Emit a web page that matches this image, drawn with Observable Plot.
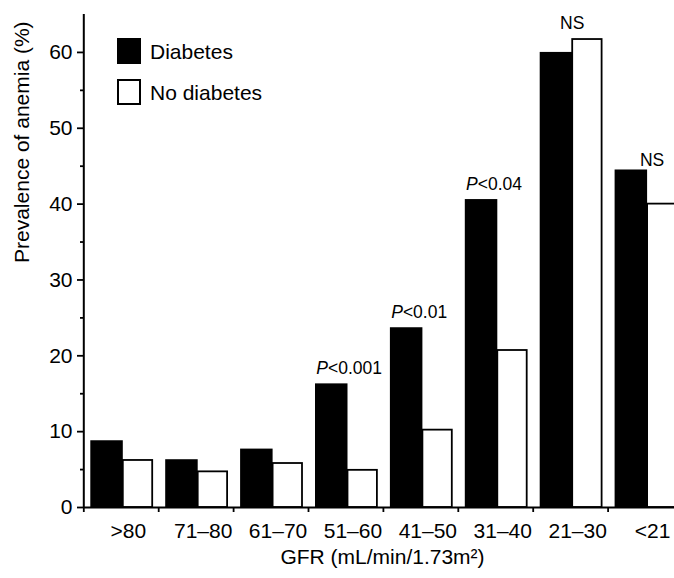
<!DOCTYPE html>
<html><head><meta charset="utf-8">
<script src="https://cdn.jsdelivr.net/npm/d3@7"></script>
<script src="https://cdn.jsdelivr.net/npm/@observablehq/plot@0.6"></script>
<style>
body{margin:0;background:#fff;overflow:hidden}
#chart{position:relative;width:674px;height:578px;font-family:"Liberation Sans",Arial,Helvetica,sans-serif;color:#000}
#chart svg{overflow:hidden}
</style></head><body><div id="chart"></div>
<script>
// ---- data ----
const groups = [">80", "71–80", "61–70", "51–60", "41–50", "31–40", "21–30", "<21"];
const series = ["Diabetes", "No diabetes"];
const diabetes   = [8.8, 6.3, 7.7, 16.3, 23.7, 40.6, 60.0, 44.5];
const noDiabetes = [6.2, 4.7, 5.8, 4.9, 10.2, 20.7, 61.7, 40.0];
const pGroups = ["51–60", "41–50", "31–40"];
const pValues = ["<0.001", "<0.01", "<0.04"];
const nsGroups = ["21–30", "<21"];
const yTicks = [0, 10, 20, 30, 40, 50, 60];
const yMinorTicks = [5, 15, 25, 35, 45, 55];
const xLabel = "GFR (mL/min/1.73m²)";
const yLabel = "Prevalence of anemia (%)";

// ---- layout ----
const W = 674, H = 578, x0 = 83.3, step = 74.9, yBase = 507, yTop = 14;

const table = groups.map((g, i) => ({group: g, d: diabetes[i], n: noDiabetes[i], top: Math.max(diabetes[i], noDiabetes[i])}));
const pTable = pGroups.map((g, i) => ({group: g, label: pValues[i], top: table.find(t => t.group === g).top}));
const nsTable = nsGroups.map(g => ({group: g, label: "NS", top: table.find(t => t.group === g).top}));

const plot = Plot.plot({
  width: W, height: H,
  marginLeft: 83, marginRight: 0, marginTop: yTop, marginBottom: H - yBase,
  style: {fontFamily: "Liberation Sans, Arial, Helvetica, sans-serif", fontSize: "21px", color: "#000", background: "#fff", overflow: "hidden"},
  x: {type: "band", domain: groups, range: [x0, x0 + step * groups.length], padding: 0, round: false, axis: null},
  y: {domain: [0, 65], range: [yBase, yTop], axis: null},
  marks: [
    Plot.barY(table, {x: "group", y: "d", fill: "#000", insetLeft: 7, insetRight: step - 39.5}),
    Plot.barY(table, {x: "group", y: "n", fill: "#fff", stroke: "#000", strokeWidth: 1.8, insetLeft: 39.5, insetRight: 6}),
    Plot.ruleY([0], {stroke: "#000", strokeWidth: 2}),
    Plot.ruleX([groups[0]], {x: d => d, dx: -step / 2, y1: 0, y2: 65, stroke: "#000", strokeWidth: 2}),
    Plot.axisX(groups, {tickSize: 5, tickFormat: () => "", dx: -step / 2, strokeWidth: 1.8, label: null}),
    Plot.axisX(groups, {tickSize: 0, tickPadding: 16, dx: 7, fontSize: 21, label: null}),
    Plot.axisY(yTicks, {tickSize: 6, tickPadding: 5, strokeWidth: 1.8, fontSize: 21, label: null}),
    Plot.axisY(yMinorTicks, {tickSize: 3, tickFormat: () => "", strokeWidth: 1.8, label: null}),
    Plot.text(pTable, {x: "group", y: "top", text: () => "P", fontStyle: "italic", textAnchor: "start", dx: -step / 2 + 7.8, dy: -15, fontSize: 17.5}),
    Plot.text(pTable, {x: "group", y: "top", text: "label", textAnchor: "start", dx: -step / 2 + 7.8 + 11.7, dy: -15, fontSize: 17.5}),
    Plot.text(nsTable.slice(0, 1), {x: "group", y: "top", text: "label", dx: 1.5, dy: -16.6, fontSize: 17.5}),
    Plot.text(nsTable.slice(1), {x: "group", y: "top", text: "label", dx: 6.5, dy: -10, fontSize: 17.5}),
    Plot.text([xLabel], {frameAnchor: "bottom", dx: 3.5, dy: 56, fontSize: 21}),
    Plot.text([yLabel], {frameAnchor: "left", rotate: -90, dx: -61.7, dy: 2, fontSize: 21})
  ]
});

const chart = document.getElementById("chart");
chart.appendChild(plot);

// legend inside the plot area
const legend = document.createElement("div");
legend.style.cssText = "position:absolute;left:117px;top:38px;";
series.forEach((s, i) => {
  const row = document.createElement("div");
  row.style.cssText = `position:absolute;left:0;top:${i * 41}px;height:26px;display:flex;align-items:center;white-space:nowrap;`;
  const sw = document.createElement("span");
  sw.style.cssText = `box-sizing:border-box;width:24px;height:26px;border:2px solid #000;background:${i === 0 ? "#000" : "#fff"};margin-right:9px;flex:none;`;
  const tx = document.createElement("span");
  tx.textContent = s;
  tx.style.cssText = "font-size:21px;line-height:1;color:#000;";
  row.appendChild(sw); row.appendChild(tx);
  legend.appendChild(row);
});
chart.appendChild(legend);
</script>
</body></html>
